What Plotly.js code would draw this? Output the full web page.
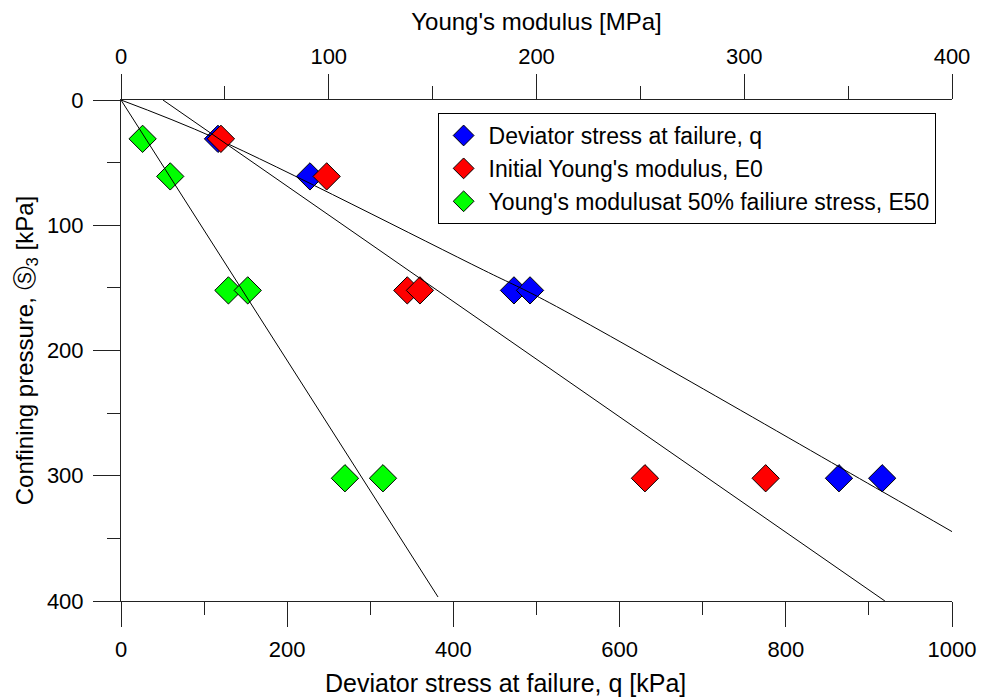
<!DOCTYPE html>
<html>
<head>
<meta charset="utf-8">
<script src="https://cdn.plot.ly/plotly-3.0.1.min.js"></script>
<style>html,body{margin:0;padding:0;background:#fff;}#chart{width:982px;height:697px;}</style>
</head>
<body>
<div id="chart"></div>
<script>
// Data
const confiningPressure = [31, 61, 152, 152, 302, 302];      // kPa
const deviatorStress    = [116.7, 227.4, 472.9, 492.2, 864, 916]; // kPa (bottom axis)
const initialModulusE0  = [48.1, 99.0, 137.8, 143.9, 252.2, 310.3]; // MPa (top axis)
const modulusE50        = [10.4, 23.7, 51.7, 61.0, 107.8, 126.1];   // MPa (top axis)

// Fit lines
const fitQ_x   = [0, 113, 436, 516, 916, 1000];
const fitQ_y   = [0, 30.3, 135.7, 162, 312.6, 344.6];
const fitE0_x  = [20.2, 367.7];
const fitE0_y  = [0, 400];
const fitE50_x = [0, 152.6];
const fitE50_y = [0, 396.8];

const bottomTicks = [0, 200, 400, 600, 800, 1000];
const topTicks = [0, 100, 200, 300, 400];
const yTicks = [0, 100, 200, 300, 400];

const FONT = 'Liberation Sans, Arial, sans-serif';
const TICK = 22, TITLE = 24, LEG = 23;
const mk = (color) => ({symbol: 'diamond', size: 21, color: color, line: {color: '#000', width: 1}});

const traces = [
  {x: deviatorStress, y: confiningPressure, xaxis: 'x', yaxis: 'y', type: 'scatter', mode: 'markers',
   name: 'Deviator stress at failure, q', marker: mk('#0000FF')},
  {x: fitQ_x, y: fitQ_y, xaxis: 'x', yaxis: 'y', type: 'scatter', mode: 'lines',
   line: {color: '#000', width: 1, shape: 'spline'}, showlegend: false, hoverinfo: 'skip'},
  {x: initialModulusE0, y: confiningPressure, xaxis: 'x2', yaxis: 'y', type: 'scatter', mode: 'markers',
   name: "Initial Young's modulus, E0", marker: mk('#FF0000')},
  {x: modulusE50, y: confiningPressure, xaxis: 'x2', yaxis: 'y', type: 'scatter', mode: 'markers',
   name: "Young's modulusat 50% failiure stress, E50", marker: mk('#00FF00')},
  {x: fitE0_x, y: fitE0_y, xaxis: 'x2', yaxis: 'y', type: 'scatter', mode: 'lines',
   line: {color: '#000', width: 1}, showlegend: false, hoverinfo: 'skip'},
  {x: fitE50_x, y: fitE50_y, xaxis: 'x2', yaxis: 'y', type: 'scatter', mode: 'lines',
   line: {color: '#000', width: 1}, showlegend: false, hoverinfo: 'skip'}
];

const axCommon = {
  showgrid: false, zeroline: false, showline: true, linecolor: '#222', linewidth: 1,
  ticks: 'outside', ticklen: 25, tickcolor: '#222', tickwidth: 1,
  tickfont: {family: FONT, size: TICK, color: '#000'},
  minor: {ticks: 'outside', ticklen: 13, tickcolor: '#222', tickwidth: 1, showgrid: false}
};

const layout = {
  width: 982, height: 697,
  margin: {l: 121, r: 30, t: 100, b: 96},
  paper_bgcolor: '#fff', plot_bgcolor: '#fff',
  font: {family: FONT, size: TICK, color: '#000'},
  showlegend: true,
  legend: {
    x: 0.381, y: 0.974, xanchor: 'left', yanchor: 'top',
    bordercolor: '#000', borderwidth: 1, bgcolor: '#fff',
    font: {family: FONT, size: LEG, color: '#000'},
    tracegroupgap: 0, itemsizing: 'trace', itemwidth: 40
  },
  xaxis: Object.assign({}, axCommon, {
    range: [0, 1000], side: 'bottom', tickmode: 'array', tickvals: bottomTicks,
    ticktext: bottomTicks.map(String), minor: Object.assign({}, axCommon.minor, {dtick: 100}),
    ticklabelstandoff: 4
  }),
  xaxis2: Object.assign({}, axCommon, {
    range: [0, 400], side: 'top', overlaying: 'x', anchor: 'y', tickmode: 'array', tickvals: topTicks,
    ticktext: topTicks.map(String), minor: Object.assign({}, axCommon.minor, {dtick: 50}),
    ticklabelstandoff: 1,
    title: {text: "Young's modulus [MPa]", font: {family: FONT, size: TITLE}, standoff: 6}
  }),
  yaxis: Object.assign({}, axCommon, {
    range: [400, 0], tickmode: 'array', tickvals: yTicks, ticktext: yTicks.map(String),
    ticklen: 27, minor: Object.assign({}, axCommon.minor, {dtick: 50}),
    ticklabelstandoff: 5,
    title: {text: 'Confining pressure, Ⓢ<sub>3</sub> [kPa]', font: {family: FONT, size: TITLE}, standoff: 6}
  }),
  annotations: [{
    text: 'Deviator stress at failure, q [kPa]', xref: 'paper', yref: 'paper',
    x: 0.463, y: -0.164, xanchor: 'center', yanchor: 'middle', showarrow: false,
    font: {family: FONT, size: 25, color: '#000'}
  }]
};

Plotly.newPlot('chart', traces, layout, {displayModeBar: false, staticPlot: true});
</script>
</body>
</html>
